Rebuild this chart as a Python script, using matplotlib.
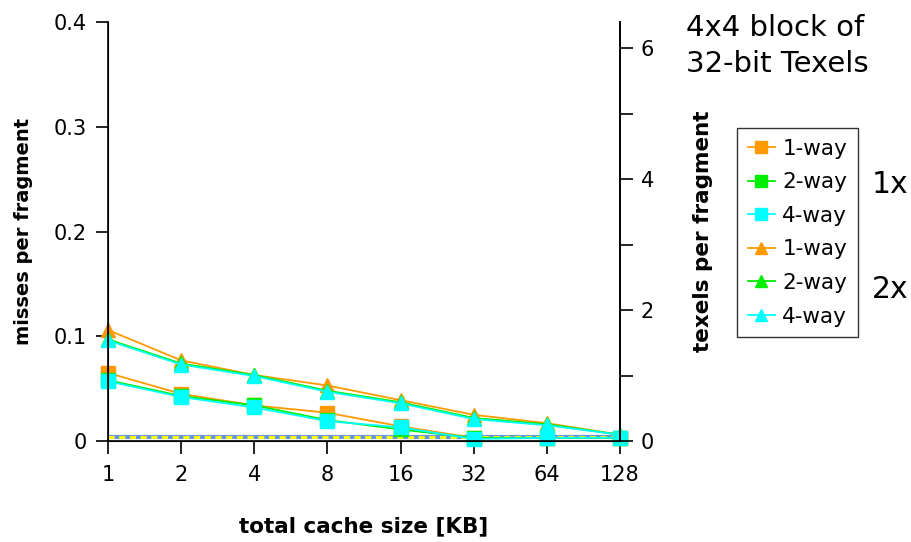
import matplotlib
matplotlib.use("Agg")
import matplotlib.pyplot as plt
from matplotlib.ticker import MultipleLocator

cache_sizes = ["1", "2", "4", "8", "16", "32", "64", "128"]
x = list(range(len(cache_sizes)))

sq_1way = [0.065, 0.045, 0.034, 0.027, 0.014, 0.003, 0.003, 0.003]
sq_2way = [0.058, 0.043, 0.034, 0.020, 0.011, 0.003, 0.003, 0.003]
sq_4way = [0.057, 0.042, 0.032, 0.019, 0.013, 0.002, 0.003, 0.003]
tri_1way = [0.106, 0.077, 0.063, 0.053, 0.039, 0.025, 0.017, 0.006]
tri_2way = [0.097, 0.074, 0.063, 0.048, 0.037, 0.022, 0.016, 0.006]
tri_4way = [0.096, 0.073, 0.062, 0.047, 0.036, 0.021, 0.015, 0.006]
base_blue = [0.0035] * 8
base_yellow = [0.0035] * 8

orange = "#FF9900"
green = "#00EE00"
cyan = "#00FFFF"

fig = plt.figure(figsize=(9.12, 5.42), dpi=100)
ax = fig.add_axes([108/912, 1-441/542, (620-108)/912, (441-22)/542])

ax.plot(x, base_blue, color="#6495ED", lw=3, zorder=1)
ax.plot(x, base_yellow, color="#FFFF00", lw=2.2, ls=(0, (2, 1.5)), zorder=2)

ms_sq = 9.5
ms_tri = 10
h = []
h += ax.plot(x, sq_1way, color=orange, marker="s", ms=ms_sq, lw=1.3, label="1-way")
h += ax.plot(x, sq_2way, color=green, marker="s", ms=ms_sq, lw=1.3, label="2-way")
h += ax.plot(x, sq_4way, color=cyan, marker="s", ms=ms_sq, lw=1.3, label="4-way")
h += ax.plot(x, tri_1way, color=orange, marker="^", ms=ms_tri, lw=1.3, label="1-way")
h += ax.plot(x, tri_2way, color=green, marker="^", ms=ms_tri, lw=1.3, label="2-way")
h += ax.plot(x, tri_4way, color=cyan, marker="^", ms=ms_tri, lw=1.3, label="4-way")

for l in h:
    l.set_clip_on(False)

ax.set_xlim(0, 7)
ax.set_ylim(0, 0.4)
ax.set_xticks(x)
ax.set_xticklabels(cache_sizes)
ax.set_yticks([0, 0.1, 0.2, 0.3, 0.4])
ax.set_yticklabels(["0", "0.1", "0.2", "0.3", "0.4"])
ax.spines["top"].set_visible(False)
for s in ["left", "bottom", "right"]:
    ax.spines[s].set_linewidth(1.2)
ax.tick_params(axis="both", direction="out", length=9, width=1.2, labelsize=15, pad=6)
ax.tick_params(axis="x", pad=8)
ax.set_xlabel("total cache size [KB]", fontsize=15.5, fontweight="bold", labelpad=23)
ax.set_ylabel("misses per fragment", fontsize=14, fontweight="bold", labelpad=15)

ax2 = ax.twinx()
ax2.set_ylim(0, 6.4)
ax2.set_yticks([0, 2, 4, 6])
ax2.yaxis.set_minor_locator(MultipleLocator(1))
ax2.spines["top"].set_visible(False)
ax2.spines["right"].set_linewidth(1.2)
ax2.tick_params(axis="y", which="major", direction="out", length=9, width=1.2, labelsize=15, pad=6)
ax2.tick_params(axis="y", which="minor", direction="out", length=9, width=1.2)
ax2.set_ylabel("texels per fragment", fontsize=15.5, fontweight="bold", labelpad=28)

fig.text(686/912, 1-46/542, "4x4 block of\n32-bit Texels", fontsize=21, ha="left", va="center", linespacing=1.4)

leg = fig.legend(h, [l.get_label() for l in h], loc="upper left",
                 bbox_to_anchor=(737/912, 1-128/542), fontsize=15.5,
                 frameon=True, fancybox=False, edgecolor="black",
                 handlelength=1.25, handletextpad=0.35, borderpad=0.5,
                 borderaxespad=0.0,
                 labelspacing=0.63, markerscale=0.9)
leg.get_frame().set_linewidth(1.0)

fig.text(872/912, 1-185/542, "1x", fontsize=21.5, ha="left", va="center")
fig.text(872/912, 1-290/542, "2x", fontsize=21.5, ha="left", va="center")

fig.savefig("out.png", dpi=100)
